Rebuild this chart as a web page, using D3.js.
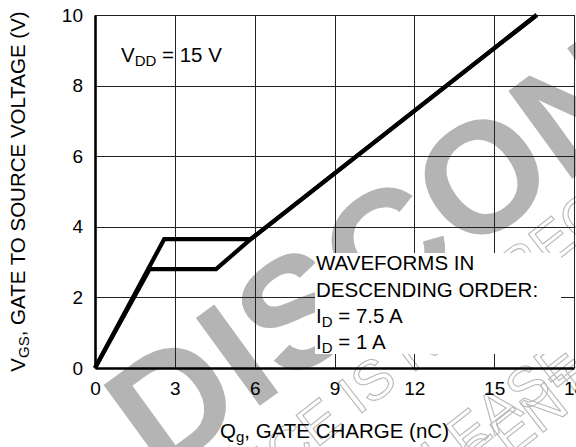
<!DOCTYPE html>
<html>
<head>
<meta charset="utf-8">
<script src="https://d3js.org/d3.v7.min.js"></script>
<style>
body { margin: 0; background: #fff; }
text { font-family: "Liberation Sans", Arial, Helvetica, sans-serif; fill: #000; }
</style>
</head>
<body>
<svg width="576" height="447"></svg>
<script>

// chart data
var xTicks = [0, 3, 6, 9, 12, 15, 18];
var yTicks = [0, 2, 4, 6, 8, 10];
var qgHigh = [0, 2.6, 5.85, 16.6];        // I_D = 7.5 A
var vgsHigh = [0, 3.65, 3.65, 10];
var qgLow = [0, 2.05, 4.55, 5.85, 16.6];  // I_D = 1 A
var vgsLow = [0, 2.8, 2.8, 3.65, 10];
var noteLines = ["WAVEFORMS IN", "DESCENDING ORDER:"];
var legendCurrents = ["7.5 A", "1 A"];

var svg = d3.select("svg"),
    width = +svg.attr("width"),
    height = +svg.attr("height");

var x = d3.scaleLinear().domain([0, 18]).range([95, 574]);
var y = d3.scaleLinear().domain([0, 10]).range([368, 15]);

// watermark underneath everything
var wm = svg.append("g");
wm.append("text")
    .attr("transform", "translate(159,479) rotate(-36)")
    .style("font-size", "158px")
    .style("font-weight", "bold")
    .style("fill", "#b4b4b4")
    .text("DISCONTINUED");

var outline = [
  { s: "THIS DEVICE IS NOT RECOMMENDED", pre: "THIS DEVICE ", at: [358, 416] },
  { s: "PLEASE CONTACT YOUR", pre: "PLE", at: [495, 436] },
  { s: "SALES REPRESENTATIVE", pre: "SALES REPRES", at: [510, 458] }
];
outline.forEach(function(o) {
  var t = wm.append("text")
      .attr("transform", "translate(" + o.at + ") rotate(-38)")
      .style("font-size", "56px")
      .style("fill", "none")
      .style("stroke", "#b8b8b8")
      .style("stroke-width", 1.1)
      .text(o.s);
  t.attr("x", -t.node().getSubStringLength(0, o.pre.length));
});

// grid
var grid = svg.append("g").attr("stroke", "#222").attr("stroke-width", 1);
grid.selectAll(".vx").data(xTicks.slice(1)).enter().append("line")
    .attr("x1", function(d) { return Math.round(x(d)) + 0.5; })
    .attr("x2", function(d) { return Math.round(x(d)) + 0.5; })
    .attr("y1", y(10)).attr("y2", y(0));
grid.selectAll(".hy").data(yTicks.slice(1)).enter().append("line")
    .attr("y1", function(d) { return Math.round(y(d)) + 0.5; })
    .attr("y2", function(d) { return Math.round(y(d)) + 0.5; })
    .attr("x1", x(0)).attr("x2", x(18));

// axes
var xAxis = d3.axisBottom(x).tickValues(xTicks).tickSize(0).tickPadding(14);
var yAxis = d3.axisLeft(y).tickValues(yTicks).tickSize(0).tickPadding(12);
var gx = svg.append("g").attr("transform", "translate(0," + y(0) + ")").call(xAxis);
var gy = svg.append("g").attr("transform", "translate(" + x(0) + ",0)").call(yAxis);
[gx, gy].forEach(function(g) {
  g.select(".domain").attr("stroke", "#000").attr("stroke-width", 2.6);
  g.selectAll("text").style("font-size", "19px")
      .style("font-family", "'Liberation Sans', Arial, sans-serif").attr("fill", "#000");
});

// note box
svg.append("rect").attr("x", 315).attr("y", 253).attr("width", 246).attr("height", 101)
    .attr("fill", "#fff");
var note = svg.append("text").attr("x", 316).attr("y", 270).style("font-size", "20.5px");
noteLines.forEach(function(l, i) {
  note.append("tspan").attr("x", 316).attr("dy", i ? 26.5 : 0).text(l);
});
legendCurrents.forEach(function(c, i) {
  var t = svg.append("text").attr("x", 316).attr("y", 323 + i * 26).style("font-size", "20.5px");
  t.append("tspan").text("I");
  t.append("tspan").attr("dy", 4).style("font-size", "15px").text("D");
  t.append("tspan").attr("dy", -4).text(" = " + c);
});

// V_DD
var vdd = svg.append("text").attr("x", 121).attr("y", 62).style("font-size", "20.5px");
vdd.append("tspan").text("V");
vdd.append("tspan").attr("dy", 4).style("font-size", "15px").text("DD");
vdd.append("tspan").attr("dy", -4).text(" = 15 V");

// axis titles
var xt = svg.append("text").attr("x", (x(0) + x(18)) / 2).attr("y", 438)
    .attr("text-anchor", "middle").style("font-size", "20.5px");
xt.append("tspan").text("Q");
xt.append("tspan").attr("dy", 4).style("font-size", "15px").text("g");
xt.append("tspan").attr("dy", -4).text(", GATE CHARGE (nC)");

var yt = svg.append("text").attr("transform", "translate(25," + (y(0) + y(10)) / 2 + ") rotate(-90)")
    .attr("text-anchor", "middle").style("font-size", "20.5px");
yt.append("tspan").text("V");
yt.append("tspan").attr("dy", 4).style("font-size", "15px").text("GS");
yt.append("tspan").attr("dy", -4).text(", GATE TO SOURCE VOLTAGE (V)");

// curves
var line = d3.line().x(function(d) { return x(d[0]); }).y(function(d) { return y(d[1]); });
[[qgHigh, vgsHigh], [qgLow, vgsLow]].forEach(function(s) {
  svg.append("path")
      .datum(d3.zip(s[0], s[1]))
      .attr("d", line)
      .attr("fill", "none")
      .attr("stroke", "#000")
      .attr("stroke-width", 4.2)
      .attr("stroke-linejoin", "miter");
});

</script>
</body>
</html>
